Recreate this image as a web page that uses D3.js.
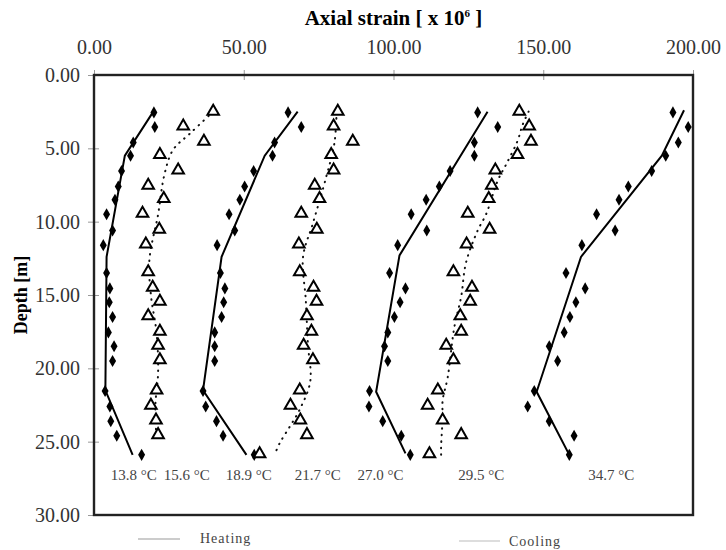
<!DOCTYPE html>
<html>
<head>
<meta charset="utf-8">
<script src="https://cdn.jsdelivr.net/npm/d3@7"></script>
<style>
  body { margin: 0; background: #fff; }
  text { font-family: "Liberation Serif", "Times New Roman", serif; }
</style>
</head>
<body>
<script>
// depths of the gauges [m]
var depths = [2.55, 3.55, 4.6, 5.5, 6.55, 7.6, 8.5, 9.5, 10.6, 11.6, 13.5, 14.55,
  15.5, 16.5, 17.55, 18.5, 19.5, 21.55, 22.6, 23.6, 24.6, 25.9];

// heating stages (diamonds)
var heat138 = [20.0, 20.3, 13.1, 12.2, 9.2, 8.1, 7.0, 4.2, 6.2, 3.1, 4.2, 5.3, 5.1, 6.2, 4.8, 6.7, 6.2, 3.7, 5.3, 5.6, 7.6, 15.9];
var heat189 = [64.8, 69.2, 60.3, 59.6, 53.3, 50.3, 48.7, 45.1, 47.0, 41.1, 42.2, 43.7, 43.3, 42.6, 40.3, 40.3, 40.3, 36.4, 37.3, 40.9, 43.1, 53.5];
var heat270 = [128.1, 134.8, 127.0, 127.0, 118.9, 115.3, 110.9, 105.9, 111.1, 101.4, 98.7, 104.0, 102.2, 100.3, 98.1, 97.0, 98.1, 92.0, 91.8, 96.4, 102.6, 105.6];
var heat347 = [193.3, 198.4, 195.1, 190.9, 186.2, 178.4, 175.3, 167.8, 174.0, 162.9, 157.6, 164.0, 160.9, 158.9, 157.0, 152.0, 154.8, 147.0, 144.8, 152.0, 160.3, 158.7];

// cooling stages (triangles)
var cool156 = [39.8, 29.8, 36.7, 22.0, 28.1, 18.1, 23.3, 16.2, 21.8, 17.3, 18.1, 19.6, 22.0, 18.1, 22.0, 21.4, 22.0, 20.9, 19.0, 20.7, 21.4];
var cool217 = [81.4, 80.0, 86.4, 79.2, 80.0, 73.7, 75.3, 69.2, 74.4, 68.4, 68.7, 73.3, 74.3, 71.1, 72.6, 70.0, 73.1, 68.7, 65.6, 68.9, 71.1, 55.3];
var cool295 = [142.0, 145.3, 145.9, 141.4, 134.0, 132.8, 131.8, 124.8, 132.1, 124.4, 120.0, 126.2, 125.6, 122.3, 122.6, 117.6, 120.0, 114.8, 111.4, 116.4, 122.6, 112.0];

// fitted heating profiles [strain, depth]
var fitHeat138 = [[19.8, 2.5], [10.3, 5.5], [4.2, 12.4], [3.8, 21.5], [12.9, 25.9]];
var fitHeat189 = [[68.0, 2.5], [57.0, 5.5], [42.6, 12.4], [36.4, 21.5], [50.9, 25.9]];
var fitHeat270 = [[131.4, 2.5], [102.0, 12.3], [94.2, 21.6], [104.0, 25.8]];
var fitHeat347 = [[197.0, 2.4], [189.6, 5.5], [162.6, 12.4], [147.8, 21.6], [158.7, 25.9]];

// fitted cooling profiles [strain, depth]
var fitCool156 = [[39.8, 2.5], [32.0, 4.0], [26.4, 5.1], [23.5, 6.8], [21.4, 9.5], [18.5, 12.6],
  [19.0, 15.0], [20.9, 17.6], [21.4, 20.3], [20.5, 22.5], [20.8, 24.6]];
var fitCool217 = [[81.0, 2.5], [80.3, 4.6], [77.6, 6.9], [73.1, 10.1], [69.8, 12.4], [70.7, 15.3],
  [71.4, 18.3], [72.2, 20.9], [68.7, 22.8], [65.3, 24.0], [62.0, 25.1], [60.5, 25.8]];
var fitCool295 = [[145.1, 2.5], [143.1, 3.4], [141.4, 4.5], [137.6, 6.1], [134.8, 7.2], [130.9, 9.5],
  [128.1, 10.6], [124.2, 12.8], [122.6, 15.1], [120.3, 17.2], [118.1, 20.6], [116.4, 22.2],
  [116.4, 23.3], [115.9, 25.3], [115.9, 25.9]];

// temperature labels and where they sit along the strain axis
var tempLabels = ["13.8 °C", "15.6 °C", "18.9 °C", "21.7 °C", "27.0 °C", "29.5 °C", "34.7 °C"];
var tempLabelAt = [13.3, 31.0, 51.7, 74.7, 95.7, 129.3, 172.7];

var xTicks = [0, 50, 100, 150, 200];
var yTicks = [0, 5, 10, 15, 20, 25, 30];

var width = 726, height = 550;

var svg = d3.select("body").append("svg")
  .attr("width", width)
  .attr("height", height);

var x = d3.scaleLinear().domain([0, 200]).range([94, 693]);
var y = d3.scaleLinear().domain([0, 30]).range([75, 515]);
var fmt = d3.format(".2f");

// axes (labels outside, ticks crossing the frame)
svg.append("g").attr("transform", "translate(0," + y(0) + ")")
  .call(d3.axisTop(x).tickValues(xTicks).tickFormat(fmt).tickSize(5).tickPadding(16));
svg.append("g").attr("transform", "translate(0," + y(0) + ")")
  .call(d3.axisTop(x).tickValues(xTicks).tickFormat("").tickSize(-5));

svg.append("g").attr("transform", "translate(" + x(0) + ",0)")
  .call(d3.axisLeft(y).tickValues(yTicks).tickFormat(fmt).tickSize(6).tickPadding(8));
svg.append("g").attr("transform", "translate(" + x(0) + ",0)")
  .call(d3.axisLeft(y).tickValues(yTicks).tickFormat("").tickSize(-5));

svg.selectAll(".domain").remove();
svg.selectAll(".tick line").attr("stroke", "#999");
svg.selectAll(".tick text")
  .attr("fill", "#333")
  .style("font-size", "20px");

// frame
svg.append("rect")
  .attr("x", x(0)).attr("y", y(0))
  .attr("width", x(200) - x(0)).attr("height", y(30) - y(0))
  .attr("fill", "none")
  .attr("stroke", "#222")
  .attr("stroke-width", 2.4);

// titles
var title = svg.append("text")
  .attr("x", (x(0) + x(200)) / 2).attr("y", 25)
  .attr("text-anchor", "middle")
  .style("font-size", "21px").style("font-weight", "bold")
  .text("Axial strain [ x 10");
title.append("tspan").attr("dy", -8).style("font-size", "11px").text("6");
title.append("tspan").attr("dy", 8).text(" ]");

svg.append("text")
  .attr("transform", "translate(27," + y(15) + ") rotate(-90)")
  .attr("text-anchor", "middle")
  .style("font-size", "18px").style("font-weight", "bold")
  .text("Depth [m]");

// fitted lines
var line = d3.line().x(d => x(d[0])).y(d => y(d[1]));
var curve = d3.line().x(d => x(d[0])).y(d => y(d[1])).curve(d3.curveCatmullRom);

[fitHeat138, fitHeat189, fitHeat270, fitHeat347].forEach(function (f) {
  svg.append("path").attr("d", line(f))
    .attr("fill", "none").attr("stroke", "#000").attr("stroke-width", 2);
});

[fitCool156, fitCool217, fitCool295].forEach(function (f) {
  svg.append("path").attr("d", curve(f))
    .attr("fill", "none").attr("stroke", "#111").attr("stroke-width", 2)
    .attr("stroke-linecap", "round")
    .attr("stroke-dasharray", "0.5 6");
});

// markers
var diamond = d3.symbol().type(d3.symbolDiamond).size(42);
var triangle = d3.symbol().type(d3.symbolTriangle).size(58);

[heat138, heat189, heat270, heat347].forEach(function (s) {
  svg.append("g").selectAll("path")
    .data(s)
    .enter()
    .append("path")
    .attr("d", diamond)
    .attr("transform", (d, i) => "translate(" + x(d) + "," + y(depths[i]) + ")")
    .attr("fill", "#000");
});

[cool156, cool217, cool295].forEach(function (s) {
  svg.append("g").selectAll("path")
    .data(s)
    .enter()
    .append("path")
    .attr("d", triangle)
    .attr("transform", (d, i) => "translate(" + x(d) + "," + (y(depths[i]) - 1) + ")")
    .attr("fill", "#fff")
    .attr("stroke", "#000")
    .attr("stroke-width", 2);
});

// temperature labels
svg.append("g").selectAll("text")
  .data(tempLabels)
  .enter()
  .append("text")
  .attr("x", (d, i) => x(tempLabelAt[i]))
  .attr("y", 480)
  .attr("text-anchor", "middle")
  .attr("fill", "#444")
  .style("font-size", "15px")
  .text(d => d);

// legend
var legend = svg.append("g").attr("class", "legend");
legend.append("line")
  .attr("x1", 138).attr("x2", 180).attr("y1", 539).attr("y2", 539)
  .attr("stroke", "#999").attr("stroke-width", 1);
legend.append("text")
  .attr("x", 200).attr("y", 543)
  .attr("fill", "#444").style("font-size", "14px")
  .style("letter-spacing", "1px")
  .text("Heating");
legend.append("line")
  .attr("x1", 459).attr("x2", 500).attr("y1", 541).attr("y2", 541)
  .attr("stroke", "#bbb").attr("stroke-width", 1);
legend.append("text")
  .attr("x", 509).attr("y", 546)
  .attr("fill", "#444").style("font-size", "14px")
  .style("letter-spacing", "1px")
  .text("Cooling");
</script>
</body>
</html>
